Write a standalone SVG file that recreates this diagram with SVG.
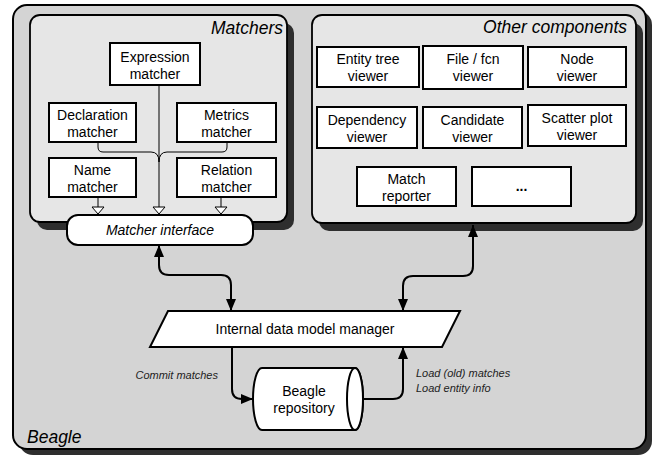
<svg xmlns="http://www.w3.org/2000/svg" width="654" height="456" viewBox="0 0 654 456">
<defs>
<style>
.shadow{fill:#2e2e2e;stroke:none}
.outer{fill:#d4d4d4;stroke:#000;stroke-width:2}
.panel{fill:#e6e6e6;stroke:#000;stroke-width:1.8}
.box{fill:#fff;stroke:#000;stroke-width:2}
.t{font-family:"Liberation Sans",Arial,sans-serif;font-size:14px;fill:#000;text-anchor:middle}
.ti{font-family:"Liberation Sans",Arial,sans-serif;font-style:italic;font-size:17.5px;fill:#000}
.lab{font-family:"Liberation Sans",Arial,sans-serif;font-style:italic;font-size:11px;fill:#222}
.thin{fill:none;stroke:#000;stroke-width:1}
.hollow{fill:#fff;stroke:#000;stroke-width:1}
.conn{fill:none;stroke:#000;stroke-width:2}
</style>
<marker id="ah" markerUnits="userSpaceOnUse" viewBox="0 0 12 10" refX="12" refY="5" markerWidth="12" markerHeight="10" orient="auto-start-reverse">
<path d="M0,0 L12,5 L0,10 Z" fill="#000"/>
</marker>
</defs>

<g id="beagle">
<rect class="shadow" x="19" y="11" width="633" height="444" rx="14"/>
<rect class="outer" x="13" y="5" width="633" height="444" rx="14"/>
<text class="ti" x="27" y="443">Beagle</text>
</g>

<g id="matchers-panel">
<rect class="shadow" x="37" y="23" width="257" height="207" rx="10"/>
<rect class="panel" x="30" y="15" width="257" height="207" rx="10"/>
<text class="ti" x="283" y="34" text-anchor="end">Matchers</text>
</g>

<g id="other-panel">
<rect class="shadow" x="319" y="23" width="324" height="208" rx="10"/>
<rect class="panel" x="312" y="15" width="324" height="208" rx="10"/>
<text class="ti" x="627" y="33" text-anchor="end">Other components</text>
</g>

<g id="matcher-connectors">
<path class="thin" d="M159,85 V207"/>
<path class="thin" d="M98,142 V147 Q98,152 103,152 H151 Q159,152 159,162"/>
<path class="thin" d="M227,142 V147 Q227,152 222,152 H167 Q159,152 159,162"/>
<path class="thin" d="M98,197 V207"/>
<path class="thin" d="M221,197 V207"/>
<polygon class="hollow" points="92,207 104,207 98,214"/>
<polygon class="hollow" points="153,207 165,207 159,214"/>
<polygon class="hollow" points="215,207 227,207 221,214"/>
</g>

<g id="expression-matcher">
<rect class="box" x="110" y="43" width="90" height="42"/>
<text class="t" x="155" y="62">Expression</text>
<text class="t" x="155" y="79">matcher</text>
</g>
<g id="declaration-matcher">
<rect class="box" x="49" y="103" width="87" height="39"/>
<text class="t" x="92.5" y="119.5">Declaration</text>
<text class="t" x="92.5" y="136.5">matcher</text>
</g>
<g id="metrics-matcher">
<rect class="box" x="177" y="103" width="99" height="39"/>
<text class="t" x="226.5" y="119.5">Metrics</text>
<text class="t" x="226.5" y="136.5">matcher</text>
</g>
<g id="name-matcher">
<rect class="box" x="49" y="158" width="87" height="39"/>
<text class="t" x="92.5" y="174.5">Name</text>
<text class="t" x="92.5" y="191.5">matcher</text>
</g>
<g id="relation-matcher">
<rect class="box" x="177" y="158" width="99" height="39"/>
<text class="t" x="226.5" y="174.5">Relation</text>
<text class="t" x="226.5" y="191.5">matcher</text>
</g>
<g id="matcher-interface">
<rect class="box" x="67" y="215" width="186" height="30" rx="11"/>
<text class="t" x="160" y="235" font-style="italic">Matcher interface</text>
</g>

<g id="entity-tree-viewer">
<rect class="box" x="317" y="47" width="102" height="40"/>
<text class="t" x="368" y="64">Entity tree</text>
<text class="t" x="368" y="81">viewer</text>
</g>
<g id="file-fcn-viewer">
<rect class="box" x="423" y="46" width="100" height="43"/>
<text class="t" x="473" y="64">File / fcn</text>
<text class="t" x="473" y="81">viewer</text>
</g>
<g id="node-viewer">
<rect class="box" x="528" y="47" width="98" height="40"/>
<text class="t" x="577" y="64">Node</text>
<text class="t" x="577" y="81">viewer</text>
</g>
<g id="dependency-viewer">
<rect class="box" x="317" y="107" width="100" height="41"/>
<text class="t" x="367" y="124.5">Dependency</text>
<text class="t" x="367" y="141.5">viewer</text>
</g>
<g id="candidate-viewer">
<rect class="box" x="423" y="107" width="99" height="41"/>
<text class="t" x="472.5" y="124.5">Candidate</text>
<text class="t" x="472.5" y="141.5">viewer</text>
</g>
<g id="scatter-plot-viewer">
<rect class="box" x="528" y="105" width="98" height="41"/>
<text class="t" x="577" y="122.5">Scatter plot</text>
<text class="t" x="577" y="139.5">viewer</text>
</g>
<g id="match-reporter">
<rect class="box" x="357" y="167" width="99" height="39"/>
<text class="t" x="406.5" y="183.5">Match</text>
<text class="t" x="406.5" y="200.5">reporter</text>
</g>
<g id="more">
<rect class="box" x="472" y="167" width="99" height="39"/>
<text class="t" x="521.5" y="191" font-weight="bold">...</text>
</g>

<g id="data-model-manager">
<polygon class="box" points="168,311 460,311 442,347 150,347"/>
<text class="t" x="305" y="334">Internal data model manager</text>
</g>

<g id="repository">
<path class="box" d="M262,368 L355,368 A8,31 0 0 1 355,430 L262,430 A9,31 0 0 1 262,368 Z"/>
<ellipse class="box" cx="355" cy="399" rx="8" ry="31"/>
<text class="t" x="304" y="396">Beagle</text>
<text class="t" x="304" y="413">repository</text>
</g>

<g id="connectors">
<path class="conn" d="M159,245 V265 Q159,275 169,275 H221 Q231,275 231,285 V311" marker-start="url(#ah)" marker-end="url(#ah)"/>
<path class="conn" d="M473,225 V266 Q473,276 463,276 H413 Q403,276 403,286 V311" marker-start="url(#ah)" marker-end="url(#ah)"/>
<path class="conn" d="M232,347 V389 Q232,399 242,399 H253" marker-end="url(#ah)"/>
<path class="conn" d="M363,399 H393 Q403,399 403,389 V347" marker-end="url(#ah)"/>
<text class="lab" x="218" y="379" text-anchor="end">Commit matches</text>
<text class="lab" x="416" y="377">Load (old) matches</text>
<text class="lab" x="416" y="392">Load entity info</text>
</g>
</svg>
